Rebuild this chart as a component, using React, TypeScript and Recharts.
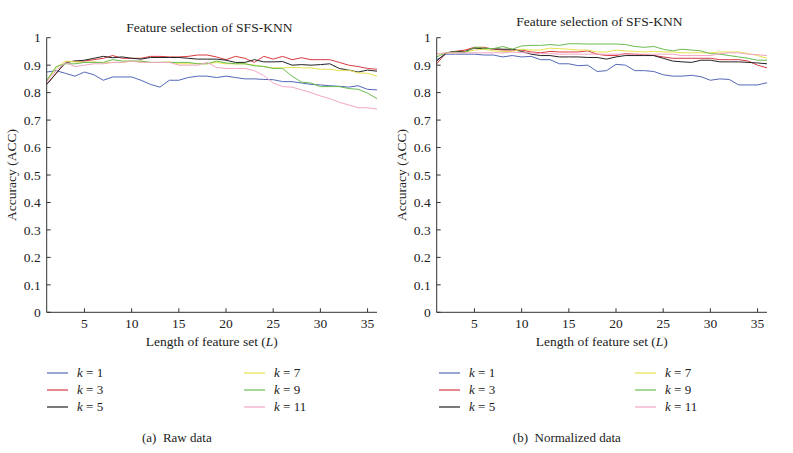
import React from "react";
import { LineChart, Line, XAxis, YAxis } from "recharts";

// Feature set length L = 1..36
const lengths = [
  1, 2, 3, 4, 5, 6, 7, 8, 9, 10, 11, 12, 13, 14, 15, 16, 17, 18,
  19, 20, 21, 22, 23, 24, 25, 26, 27, 28, 29, 30, 31, 32, 33, 34, 35, 36,
];

const xTicks = [5, 10, 15, 20, 25, 30, 35];
const yTicks = [0, 0.1, 0.2, 0.3, 0.4, 0.5, 0.6, 0.7, 0.8, 0.9, 1];

const kLabels = ["1", "3", "5", "7", "9", "11"];
const kColors = ["#5468b8", "#d83a40", "#222222", "#e6e24c", "#6abc50", "#f2a6c6"];

// (a) raw data
const rawK1 = [
  0.875, 0.88, 0.87, 0.86, 0.875, 0.865, 0.845, 0.857, 0.857, 0.857, 0.845, 0.83,
  0.82, 0.845, 0.845, 0.855, 0.86, 0.86, 0.855, 0.86, 0.855, 0.85, 0.85, 0.848,
  0.847, 0.84, 0.84, 0.835, 0.83, 0.828, 0.825, 0.823, 0.82, 0.825, 0.812, 0.81,
];
const rawK3 = [
  0.83, 0.87, 0.91, 0.915, 0.915, 0.92, 0.925, 0.935, 0.925, 0.925, 0.925, 0.932,
  0.932, 0.93, 0.93, 0.932, 0.937, 0.937, 0.93, 0.92, 0.932, 0.925, 0.91, 0.932,
  0.922, 0.932, 0.92, 0.927, 0.92, 0.92, 0.92, 0.91, 0.9, 0.895, 0.888, 0.885,
];
const rawK5 = [
  0.83, 0.87, 0.91, 0.915, 0.918, 0.925, 0.932, 0.927, 0.93, 0.925, 0.922, 0.928,
  0.928, 0.928, 0.928, 0.925, 0.922, 0.922, 0.922, 0.918, 0.91, 0.91, 0.92, 0.912,
  0.912, 0.913, 0.9, 0.902, 0.9, 0.902, 0.905, 0.888, 0.882, 0.875, 0.882, 0.878,
];
const rawK7 = [
  0.84, 0.89, 0.915, 0.912, 0.91, 0.912, 0.908, 0.91, 0.91, 0.915, 0.912, 0.91,
  0.91, 0.912, 0.905, 0.905, 0.905, 0.905, 0.91, 0.905, 0.905, 0.905, 0.9, 0.895,
  0.89, 0.89, 0.892, 0.89, 0.89, 0.885, 0.885, 0.88, 0.882, 0.872, 0.87, 0.86,
];
const rawK9 = [
  0.845, 0.895, 0.905, 0.905, 0.91, 0.91, 0.91, 0.92, 0.915, 0.915, 0.915, 0.91,
  0.91, 0.91, 0.91, 0.91, 0.905, 0.905, 0.915, 0.908, 0.905, 0.905, 0.898, 0.895,
  0.888, 0.888, 0.86, 0.838, 0.835, 0.822, 0.822, 0.822, 0.815, 0.812, 0.798, 0.778,
];
const rawK11 = [
  0.84, 0.88, 0.91, 0.895, 0.9, 0.905, 0.905, 0.91, 0.91, 0.915, 0.91, 0.91,
  0.91, 0.91, 0.9, 0.9, 0.9, 0.91, 0.892, 0.888, 0.888, 0.888, 0.88, 0.862,
  0.835, 0.822, 0.82, 0.81, 0.8, 0.788, 0.778, 0.765, 0.755, 0.745, 0.745, 0.74,
];

// (b) normalized data
const normK1 = [
  0.92, 0.94, 0.94, 0.94, 0.94, 0.937, 0.937, 0.93, 0.935, 0.93, 0.932, 0.92,
  0.92, 0.905, 0.905, 0.898, 0.9, 0.877, 0.88, 0.903, 0.9, 0.88, 0.88, 0.877,
  0.865, 0.86, 0.86, 0.863, 0.858, 0.845, 0.85, 0.848, 0.828, 0.828, 0.828, 0.836,
];
const normK3 = [
  0.905, 0.945, 0.95, 0.955, 0.965, 0.965, 0.958, 0.955, 0.955, 0.955, 0.948, 0.945,
  0.95, 0.948, 0.948, 0.948, 0.952, 0.94, 0.935, 0.935, 0.942, 0.94, 0.938, 0.935,
  0.93, 0.925, 0.925, 0.925, 0.925, 0.925, 0.92, 0.92, 0.92, 0.915, 0.9, 0.89,
];
const normK5 = [
  0.915, 0.945, 0.95, 0.95, 0.962, 0.96, 0.96, 0.958, 0.958, 0.95, 0.94, 0.935,
  0.935, 0.93, 0.93, 0.93, 0.928, 0.928, 0.922, 0.93, 0.935, 0.935, 0.935, 0.935,
  0.925, 0.915, 0.912, 0.91, 0.918, 0.918, 0.912, 0.912, 0.912, 0.91, 0.908, 0.905,
];
const normK7 = [
  0.94, 0.945, 0.945, 0.948, 0.955, 0.958, 0.952, 0.95, 0.95, 0.958, 0.955, 0.955,
  0.962, 0.96, 0.958, 0.955, 0.955, 0.948, 0.948, 0.955, 0.952, 0.95, 0.948, 0.95,
  0.948, 0.948, 0.945, 0.945, 0.945, 0.945, 0.948, 0.948, 0.948, 0.942, 0.935, 0.925,
];
const normK9 = [
  0.93, 0.945, 0.948, 0.945, 0.965, 0.962, 0.96, 0.968, 0.958, 0.97, 0.972, 0.972,
  0.975, 0.972, 0.978, 0.978, 0.977, 0.977, 0.977, 0.977, 0.975, 0.968, 0.965, 0.968,
  0.958, 0.952, 0.958, 0.955, 0.952, 0.942, 0.94, 0.935, 0.93, 0.925, 0.918, 0.918,
];
const normK11 = [
  0.94, 0.945, 0.945, 0.945, 0.945, 0.945, 0.945, 0.945, 0.948, 0.945, 0.945, 0.942,
  0.942, 0.94, 0.94, 0.94, 0.94, 0.94, 0.94, 0.94, 0.94, 0.94, 0.94, 0.94,
  0.94, 0.94, 0.935, 0.935, 0.935, 0.935, 0.942, 0.945, 0.945, 0.94, 0.938, 0.935,
];

const rawSeries = [rawK1, rawK3, rawK5, rawK7, rawK9, rawK11];
const normSeries = [normK1, normK3, normK5, normK7, normK9, normK11];

const FONT = '"Liberation Serif", "DejaVu Serif", serif';

function buildRows(series: number[][]) {
  return lengths.map((L, i) => {
    const row: Record<string, number> = { L };
    series.forEach((s, j) => {
      row["k" + kLabels[j]] = s[i];
    });
    return row;
  });
}

function formatY(v: number) {
  return v === 0 || v === 1 ? String(v) : v.toFixed(1);
}

interface PanelProps {
  left: number;
  series: number[][];
  titleTop: number;
  caption: string;
  legendCols: [number, number];
}

function Panel({ left, series, titleTop, caption, legendCols }: PanelProps) {
  const data = buildRows(series);
  const plotLeft = 46.7;
  const plotWidth = 330.3;

  const legendItem = (j: number, x: number, y: number) => (
    <div
      key={j}
      style={{
        position: "absolute",
        left: x - left,
        top: y - 8,
        height: 16,
        display: "flex",
        alignItems: "center",
        fontSize: 13,
        whiteSpace: "nowrap",
      }}
    >
      <svg width={21} height={4} style={{ marginRight: 9 }}>
        <line x1={0} y1={2} x2={21} y2={2} stroke={kColors[j]} strokeWidth={1.2} />
      </svg>
      <span>
        <i>k</i> = {kLabels[j]}
      </span>
    </div>
  );

  return (
    <div style={{ position: "absolute", left, top: 0, width: 400, height: 453 }}>
      <div
        style={{
          position: "absolute",
          left: plotLeft - 20,
          width: plotWidth + 40 - 5,
          top: titleTop - 8,
          textAlign: "center",
          fontSize: 13.5,
          lineHeight: "16px",
        }}
      >
        Feature selection of SFS-KNN
      </div>
      <div
        style={{
          position: "absolute",
          left: 12 - 60,
          top: 175 - 8,
          width: 120,
          textAlign: "center",
          fontSize: 13.5,
          lineHeight: "16px",
          transform: "rotate(-90deg)",
        }}
      >
        Accuracy (ACC)
      </div>
      <div
        style={{
          position: "absolute",
          left: plotLeft,
          width: plotWidth,
          top: 334,
          textAlign: "center",
          fontSize: 13.5,
          lineHeight: "16px",
        }}
      >
        Length of feature set (<i>L</i>)
      </div>

      <div style={{ position: "absolute", left: 0, top: 0 }}>
        <LineChart
          width={400}
          height={340}
          data={data}
          margin={{ top: 37.7, right: 23, bottom: 7.7, left: 6.7 }}
        >
          <XAxis
            dataKey="L"
            type="number"
            domain={[1, 36]}
            ticks={xTicks}
            height={20}
            tickSize={-4}
            tickMargin={10}
            stroke="#333"
            tick={{ fontSize: 13.5, fill: "#222", fontFamily: FONT }}
          />
          <YAxis
            type="number"
            domain={[0, 1]}
            ticks={yTicks}
            width={40}
            tickSize={-4}
            tickMargin={10}
            tickFormatter={formatY}
            stroke="#333"
            tick={{ fontSize: 13.5, fill: "#222", fontFamily: FONT }}
          />
          {kLabels.map((k, j) => (
            <Line
              key={k}
              type="linear"
              dataKey={"k" + k}
              stroke={kColors[j]}
              strokeWidth={1}
              dot={false}
              activeDot={false}
              isAnimationActive={false}
            />
          ))}
        </LineChart>
      </div>

      {[0, 1, 2].map((j) => legendItem(j, legendCols[0], 373 + j * 17))}
      {[3, 4, 5].map((j) => legendItem(j, legendCols[1], 373 + (j - 3) * 17))}

      <div
        style={{
          position: "absolute",
          left: plotLeft - 40,
          width: plotWidth + 10,
          top: 430,
          textAlign: "center",
          fontSize: 13,
          lineHeight: "16px",
          whiteSpace: "pre",
        }}
      >
        {caption}
      </div>
    </div>
  );
}

export default function App() {
  return (
    <div
      style={{
        position: "absolute",
        left: 0,
        top: 0,
        width: 793,
        height: 453,
        background: "#fff",
        fontFamily: FONT,
        color: "#222",
        overflow: "hidden",
      }}
    >
      <Panel left={0} series={rawSeries} titleTop={28} caption={"(a)  Raw data"} legendCols={[47, 244]} />
      <Panel
        left={390}
        series={normSeries}
        titleTop={22}
        caption={"(b)  Normalized data"}
        legendCols={[439, 635]}
      />
    </div>
  );
}
